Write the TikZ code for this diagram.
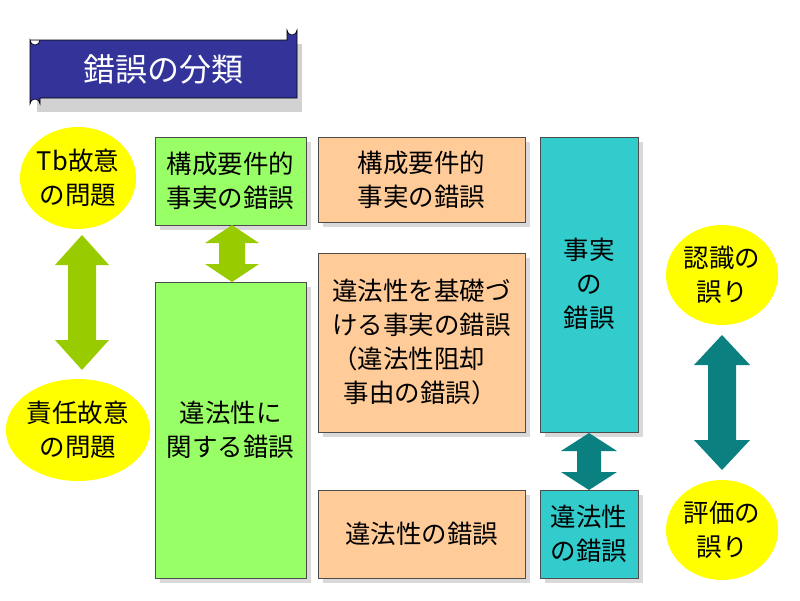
\documentclass[tikz,border=0pt]{standalone}
\usepackage{fontspec}
\setmainfont{Noto Sans CJK JP}
\usetikzlibrary{shapes.geometric}
\definecolor{grn}{HTML}{99FF66}
\definecolor{org}{HTML}{FFCC99}
\definecolor{tea}{HTML}{33CCCC}
\definecolor{dtea}{HTML}{0A8080}
\definecolor{agr}{HTML}{99CC00}
\definecolor{ylw}{HTML}{FFFF00}
\definecolor{nav}{HTML}{333399}
\newcommand{\myarrow}[7]{% x, y1, y2, shaft half, head half, head len, color
  \fill[#7] (#1,#2) -- (#1+#5,#2+#6) -- (#1+#4,#2+#6) -- (#1+#4,#3-#6) -- (#1+#5,#3-#6) -- (#1,#3)
    -- (#1-#5,#3-#6) -- (#1-#4,#3-#6) -- (#1-#4,#2+#6) -- (#1-#5,#2+#6) -- cycle;}
\begin{document}
\begin{tikzpicture}[x=1pt,y=-1pt,
  txt/.style={font=\fontsize{25.5}{34}\selectfont, align=center},
  ell/.style={txt, ellipse, fill=ylw, inner sep=0pt},
]
\useasboundingbox (0,0) rectangle (800,600);
% title scroll
\fill[gray!35] (37,44) rectangle (302,112);
\fill[nav,draw=black,line width=0.6pt] (30,40) -- (287,40) -- (287,30) arc[start angle=180,end angle=0,radius=5] -- (297,98) -- (40,98) -- (40,104) arc[start angle=0,end angle=-180,radius=5] -- (30,40) arc[start angle=180,end angle=0,radius=5] -- cycle;
\node[txt, text=white, font=\fontsize{32}{36}\selectfont] (title) at (163,69) {錯誤の分類};
% shadows
\foreach \a/\b/\c/\d in {155/137/306/225,155/282/306/578,318/137/525/222,318/253/525/432,318/490/525/578,540/137/638/432,540/490/638/578}
  \fill[gray!30] (\a+5,\b+5) rectangle (\c+5,\d+5);
% boxes
\draw[fill=grn,draw=black!70] (155,137) rectangle (306,225);
\node[txt] (g1) at (230.5,181) {構成要件的\\事実の錯誤};
\draw[fill=grn,draw=black!70] (155,282) rectangle (306,578);
\node[txt] (g2) at (230.5,430) {違法性に\\関する錯誤};
\draw[fill=org,draw=black!70] (318,137) rectangle (525,222);
\node[txt] (o1) at (421.5,180) {構成要件的\\事実の錯誤};
\draw[fill=org,draw=black!70] (318,253) rectangle (525,432);
\node[txt, align=left] (o2) at (421.5,342) {違法性を基礎づ\\ける事実の錯誤\\（違法性阻却\\\ \ 事由の錯誤）};
\draw[fill=org,draw=black!70] (318,490) rectangle (525,578);
\node[txt] (o3) at (421.5,534) {違法性の錯誤};
\draw[fill=tea,draw=black!70] (540,137) rectangle (638,432);
\node[txt] (t1) at (589,284) {事実\\の\\錯誤};
\draw[fill=tea,draw=black!70] (540,490) rectangle (638,578);
\node[txt] (t2) at (589,534) {違法性\\の錯誤};
% ellipses
\node[ell, minimum width=112, minimum height=102] (e1) at (78,178) {Tb故意\\の問題};
\node[ell, minimum width=112, minimum height=102] (e2) at (78,430) {責任故意\\の問題};
\node[ell, minimum width=112, minimum height=100] (e3) at (722,275) {認識の\\誤り};
\node[ell, minimum width=112, minimum height=100] (e4) at (722,530) {評価の\\誤り};
% arrows
\myarrow{82}{235}{370}{14}{27}{30}{agr}
\myarrow{232}{225}{282}{13}{27}{18}{agr}
\myarrow{589}{433}{490}{12}{28}{18}{dtea}
\myarrow{722}{335}{470}{14}{28}{30}{dtea}
\end{tikzpicture}
\end{document}
